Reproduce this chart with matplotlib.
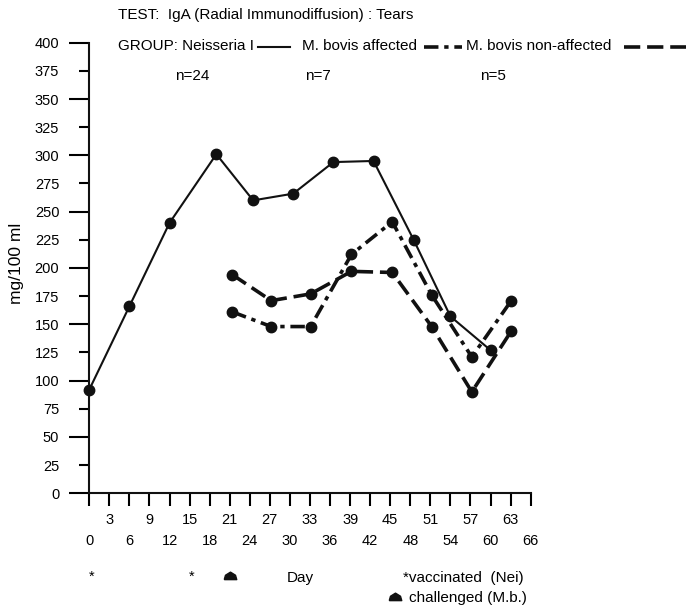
import matplotlib

matplotlib.use("Agg")
import matplotlib.pyplot as plt
import matplotlib.transforms as mtransforms
from matplotlib.lines import Line2D
from matplotlib.path import Path

plt.rcParams["font.family"] = ["Liberation Sans", "DejaVu Sans"]

# Neisseria I vaccinated group (n=24)
nei_days = [0, 6, 12, 19, 24.5, 30.5, 36.5, 42.5, 48.5, 54, 60]
nei_vals = [92, 166, 240, 301, 260, 266, 294, 295, 225, 157, 127]

# M. bovis groups
mb_days = [21.4, 27.2, 33.1, 39.2, 45.3, 51.2, 57.2, 63.1]
aff_vals = [161, 148, 148, 212, 241, 176, 121, 171]  # affected, n=7
non_vals = [194, 171, 177, 197, 196, 148, 90, 144]  # non-affected, n=5

vacc_days = [0, 15]
challenge_days = [21]

y_major = list(range(0, 401, 50))
y_minor = list(range(25, 400, 50))
x_even = list(range(0, 67, 6))
x_odd = list(range(3, 64, 6))

FS = 10.5
HS = 11  # header text size
INK = "#111111"
DASH_DOT = (4, 1.6, 1.2, 1.6)
DASHED = (4.5, 1.9)
W, H = 691, 608


def fx(px):
    return px / W


def fy(py):
    return 1 - py / H


# small house shaped marker for the challenge day
house = Path([(-1, -0.5), (-0.8, 0.2), (0, 0.7), (0.8, 0.2), (1, -0.5), (-1, -0.5)])

fig = plt.figure(figsize=(6.91, 6.08), dpi=100)
ax = fig.add_axes([0.1292, 0.1887, 0.6388, 0.7411])

ax.plot(nei_days, nei_vals, color=INK, lw=1.5, marker="o", ms=7.5, clip_on=False)
ax.plot(mb_days, aff_vals, color=INK, lw=2.6, dashes=DASH_DOT, marker="o", ms=7.5)
ax.plot(mb_days, non_vals, color=INK, lw=2.6, dashes=DASHED, marker="o", ms=7.5)

ax.set_xlim(0, 66)
ax.set_ylim(0, 400)
for s in ["top", "right"]:
    ax.spines[s].set_visible(False)
for s in ["left", "bottom"]:
    ax.spines[s].set_linewidth(1.5)
    ax.spines[s].set_color(INK)

ax.set_yticks(y_major, [str(v) for v in y_major])
ax.set_yticks(y_minor, [str(v) for v in y_minor], minor=True)
ax.tick_params(axis="y", which="major", length=14.4, width=1.5, pad=7.2, labelsize=FS)
ax.tick_params(axis="y", which="minor", length=7.2, width=1.5, pad=14.4, labelsize=FS)

ax.set_xticks(x_even, [str(v) for v in x_even])
ax.set_xticks(x_odd, [str(v) for v in x_odd], minor=True)
ax.tick_params(axis="x", which="major", length=9.5, width=1.5, pad=20, labelsize=FS)
ax.tick_params(axis="x", which="minor", length=9.5, width=1.5, pad=5, labelsize=FS)

ax.set_ylabel("mg/100 ml", fontsize=12.5)
ax.yaxis.set_label_coords(-0.148, 0.51)

# header: test name, group key, group sizes
fig.text(fx(118), fy(15), "TEST:  IgA (Radial Immunodiffusion) : Tears",
         fontsize=HS, va="center", ha="left")

key = [
    ("GROUP: Neisseria I", 118, (258, 290), dict(lw=1.5)),
    ("M. bovis affected", 302, (424, 462), dict(lw=2.6, dashes=DASH_DOT)),
    ("M. bovis non-affected", 466, (624, 686), dict(lw=2.6, dashes=DASHED)),
]
for label, tx, (x0, x1), style in key:
    fig.text(fx(tx), fy(46), label, fontsize=HS, va="center", ha="left")
    fig.lines.append(Line2D([fx(x0), fx(x1)], [fy(47), fy(47)], transform=fig.transFigure,
                            color=INK, **style))

for x, t in [(175, "n=24"), (305, "n=7"), (480, "n=5")]:
    fig.text(fx(x), fy(76), t, fontsize=HS, va="center", ha="left")

# bottom annotations, x in days, y in figure fraction
trans = mtransforms.blended_transform_factory(ax.transData, fig.transFigure)
for d in vacc_days:
    ax.text(d + 0.35, fy(577), "*", transform=trans, fontsize=FS, ha="center", va="center")
ax.plot(challenge_days, [fy(576)] * len(challenge_days), transform=trans,
        marker=house, ms=9, color=INK, ls="none", clip_on=False)

fig.text(fx(287), fy(578), "Day", fontsize=HS, va="center", ha="left")
fig.text(fx(403), fy(578), "*vaccinated  (Nei)", fontsize=HS, va="center", ha="left")
fig.text(fx(409), fy(598), "challenged (M.b.)", fontsize=HS, va="center", ha="left")
fig.lines.append(Line2D([fx(395)], [fy(597)], transform=fig.transFigure,
                        marker=house, ms=9, color=INK, ls="none"))

fig.savefig("out.png", dpi=100, facecolor="white")
